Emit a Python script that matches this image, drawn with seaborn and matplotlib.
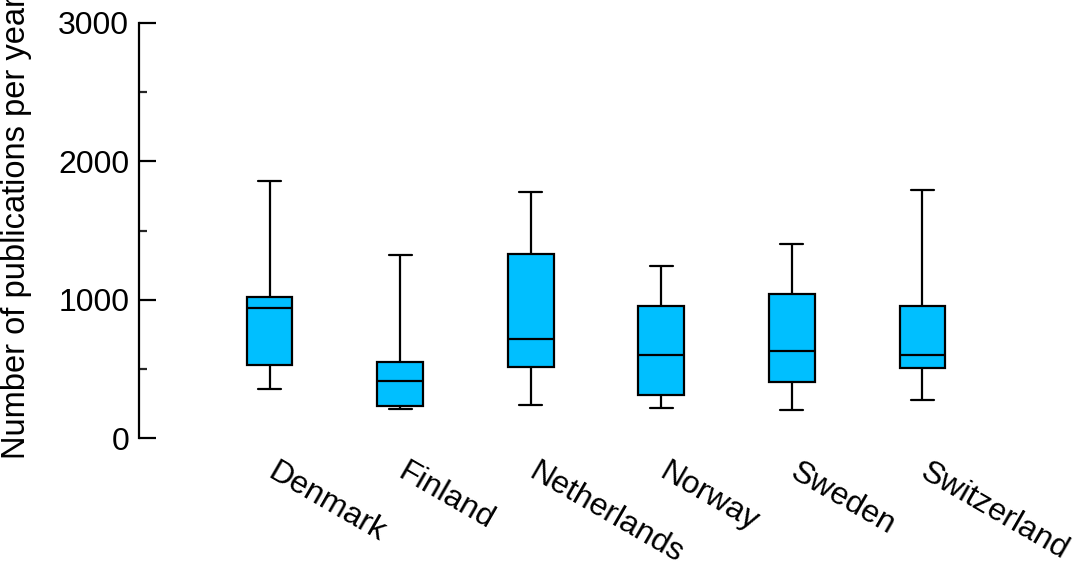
import numpy as np
import pandas as pd
import matplotlib
matplotlib.use('Agg')
import matplotlib.pyplot as plt
import matplotlib.transforms as mtransforms
import seaborn as sns
from matplotlib.ticker import MultipleLocator

# valores (min, Q1, mediana, Q3, max)
countries = ['Denmark', 'Finland', 'Netherlands', 'Norway', 'Sweden', 'Switzerland']
whisker_low = [354, 207, 236, 215, 205, 273]
q1 = [527, 234, 513, 311, 407, 506]
median = [937, 410, 716, 602, 629, 602]
q3 = [1021, 547, 1328, 957, 1041, 957]
whisker_high = [1858, 1323, 1781, 1246, 1405, 1793]

# cinco pontos por pais reproduzem exatamente os quartis
rows = []
for i, c in enumerate(countries):
    for v in [whisker_low[i], q1[i], median[i], q3[i], whisker_high[i]]:
        rows.append({'country': c, 'pubs': v})
df = pd.DataFrame(rows)

sns.set_style('ticks')
plt.rcParams['font.family'] = ['Liberation Sans', 'DejaVu Sans']

fig = plt.figure(figsize=(10.81, 5.62), dpi=100)
ax = fig.add_axes([139/1081, 1 - 438/562, (1053 - 139)/1081, (438 - 23)/562])

sns.boxplot(data=df, x='country', y='pubs', order=countries, whis=(0, 100),
            width=0.35, color='#00BFFF', saturation=1, linecolor='black',
            linewidth=1.6, showfliers=False, ax=ax)

ax.set_xlim(-1, 6)
ax.set_ylim(0, 3000)
ax.set_yticks([0, 1000, 2000, 3000])
ax.yaxis.set_minor_locator(MultipleLocator(500))
ax.tick_params(axis='y', which='major', direction='in', length=12, width=1.6,
               labelsize=23, pad=7, colors='black')
ax.tick_params(axis='y', which='minor', direction='in', length=6, width=1.6)
ax.tick_params(axis='x', length=0, labelsize=23, pad=14, labelcolor='black')
shift = mtransforms.ScaledTranslation(8/100, 0, fig.dpi_scale_trans)
for lab in ax.get_xticklabels():
    lab.set_rotation(-30)
    lab.set_ha('left')
    lab.set_va('top')
    lab.set_rotation_mode('anchor')
    lab.set_transform(lab.get_transform() + shift)

for s in ['top', 'right', 'bottom']:
    ax.spines[s].set_visible(False)
ax.spines['left'].set_linewidth(1.6)
ax.spines['left'].set_color('black')

ax.set_xlabel('')
ax.set_ylabel('Number of publications per year', fontsize=23.5, color='black')
ax.yaxis.set_label_coords(-0.117, 0.508)

fig.savefig('out.png', dpi=100)
